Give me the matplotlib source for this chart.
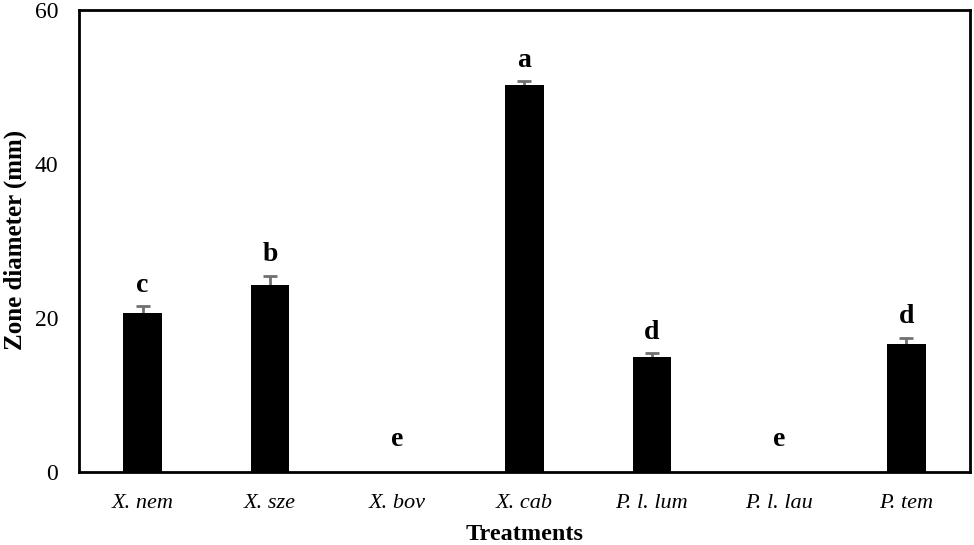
import numpy as np
import matplotlib.pyplot as plt

plt.rcParams['font.family'] = ['Liberation Serif', 'DejaVu Serif']

# data
treatments = ['X. nem', 'X. sze', 'X. bov', 'X. cab', 'P. l. lum', 'P. l. lau', 'P. tem']
means = [20.6, 24.3, 0.0, 50.3, 14.9, 0.0, 16.6]
errs = [0.9, 1.2, 0.0, 0.4, 0.5, 0.0, 0.8]
groups = ['c', 'b', 'e', 'a', 'd', 'e', 'd']

fig = plt.figure(figsize=(9.74, 5.45), dpi=100)
ax = fig.add_axes([0.081, 0.134, 0.915, 0.848])

x = np.arange(len(treatments))
ax.bar(x, means, width=0.30, color='black', zorder=3)

# error bars only where there is a bar; lower half hides behind the bar
m = np.array(means) > 0
ax.errorbar(x[m], np.array(means)[m], yerr=np.array(errs)[m], fmt='none',
            ecolor='#707070', elinewidth=2, capsize=5, capthick=2, zorder=2)

# significance letters
for xi, mv, e, g in zip(x, means, errs, groups):
    base = mv + e if mv > 0 else 1.5
    ax.text(xi, base + 1.1, g, ha='center', va='bottom',
            fontsize=20, fontweight='bold')

ax.set_xlim(-0.5, len(treatments) - 0.5)
ax.set_ylim(0, 60)
ax.set_yticks([0, 20, 40, 60])
ax.set_xticks(x)
ax.set_xticklabels(treatments, fontstyle='italic', fontsize=16)
ax.tick_params(axis='y', labelsize=17, length=0, pad=15)
ax.tick_params(axis='x', length=0, pad=16)

for s in ax.spines.values():
    s.set_linewidth(2)

fig.text(15 / 974, 1 - 240 / 545, 'Zone diameter (mm)', rotation=90,
         ha='center', va='center', fontsize=18, fontweight='bold')
fig.text(525 / 974, 1 - 534 / 545, 'Treatments', ha='center', va='center',
         fontsize=17.5, fontweight='bold')

plt.savefig('out.png', dpi=100)
